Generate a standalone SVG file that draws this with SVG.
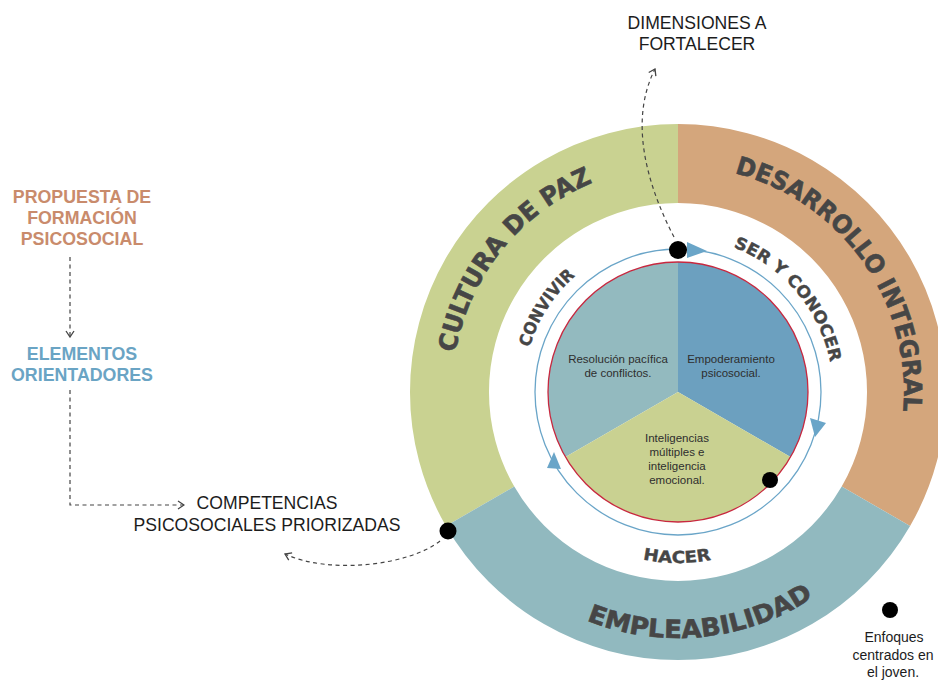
<svg xmlns="http://www.w3.org/2000/svg" width="938" height="680" viewBox="0 0 938 680">
<style>
.big{font-family:"DejaVu Sans","Liberation Sans",Arial,sans-serif;font-weight:bold;font-size:25px;fill:#464646;stroke:#464646;stroke-width:0.6}
.mid{font-family:"DejaVu Sans","Liberation Sans",Arial,sans-serif;font-weight:bold;font-size:16.5px;fill:#464646;stroke:#464646;stroke-width:0.4}
.pie{font-family:"Liberation Sans",Arial,sans-serif;font-size:11.5px;fill:#2e2e2e;text-anchor:middle}
.lbl{font-family:"Liberation Sans",Arial,sans-serif;font-size:17.6px;fill:#1c1c1c;text-anchor:middle}
.note{font-family:"Liberation Sans",Arial,sans-serif;font-size:14px;fill:#1c1c1c;text-anchor:middle}
.head{font-family:"Liberation Sans",Arial,sans-serif;font-weight:bold;font-size:17.8px;text-anchor:middle}
.dash{fill:none;stroke:#444;stroke-width:1.2;stroke-dasharray:4 3.5}
.cycle{fill:none;stroke:#6aa5c8;stroke-width:1.3}
.tri{fill:#6aa5c8}
.dot{fill:#000}
</style>
<defs>
<marker id="chev" viewBox="0 0 10 10" refX="9" refY="5" markerWidth="10" markerHeight="10" markerUnits="userSpaceOnUse" orient="auto">
<path d="M3,1 L9,5 L3,9" fill="none" stroke="#444" stroke-width="1.3"/>
</marker>
<path id="pCultura" d="M455.4 352.8 A226 226 0 0 1 593.3 182.5"/>
<path id="pDesarrollo" d="M734.6 173.2 A226 226 0 0 1 903.1 411.7"/>
<path id="pEmple" d="M586.6 620.4 A246 246 0 0 0 813.8 597.1"/>
<path id="pSer" d="M733.3 247.2 A155 155 0 0 1 830.2 362.4"/>
<path id="pConvivir" d="M529.5 347.5 A155 155 0 0 1 575.3 275.9"/>
<path id="pHacer" d="M642.7 559.3 A171 171 0 0 0 711.8 559.6"/>
</defs>

<g id="ring-cultura">
<path d="M445.9 526 A268 268 0 0 1 678 124 L678 203 A189 189 0 0 0 514.3 486.5 Z" fill="#c9d291"/>
<text class="big"><textPath href="#pCultura" textLength="228" lengthAdjust="spacingAndGlyphs">CULTURA DE PAZ</textPath></text>
</g>
<g id="ring-desarrollo">
<path d="M678 124 A268 268 0 0 1 910.1 526 L841.7 486.5 A189 189 0 0 0 678 203 Z" fill="#d4a67c"/>
<text class="big"><textPath href="#pDesarrollo" textLength="317" lengthAdjust="spacingAndGlyphs">DESARROLLO INTEGRAL</textPath></text>
</g>
<g id="ring-empleabilidad">
<path d="M910.1 526 A268 268 0 0 1 445.9 526 L514.3 486.5 A189 189 0 0 0 841.7 486.5 Z" fill="#91b9bf"/>
<text class="big"><textPath href="#pEmple" textLength="237" lengthAdjust="spacingAndGlyphs">EMPLEABILIDAD</textPath></text>
</g>

<g id="pie-resolucion">
<path d="M678 392 L565.4 457 A130 130 0 0 1 678 262 Z" fill="#93babf"/>
<text class="pie" x="618" y="363">Resolución pacífica</text>
<text class="pie" x="618" y="377">de conflictos.</text>
</g>
<g id="pie-empoderamiento">
<path d="M678 392 L678 262 A130 130 0 0 1 790.6 457 Z" fill="#6ca0bf"/>
<text class="pie" x="731" y="363">Empoderamiento</text>
<text class="pie" x="731" y="377">psicosocial.</text>
</g>
<g id="pie-inteligencias">
<path d="M678 392 L790.6 457 A130 130 0 0 1 565.4 457 Z" fill="#c9d191"/>
<text class="pie" x="677" y="442">Inteligencias</text>
<text class="pie" x="677" y="456">múltiples e</text>
<text class="pie" x="677" y="470">inteligencia</text>
<text class="pie" x="677" y="484">emocional.</text>
</g>
<circle id="pie-outline" cx="678" cy="392" r="130" fill="none" stroke="#c8283f" stroke-width="1.3"/>

<g id="cycle">
<circle class="cycle" cx="678" cy="392" r="143"/>
<path class="tri" d="M687 242 L687 258 L707 251 Z"/>
<path class="tri" d="M810 418 L826 423 L815 437 Z"/>
<path class="tri" d="M547 468 L561 469 L554 452 Z"/>
</g>

<g id="label-ser"><text class="mid"><textPath href="#pSer" textLength="157" lengthAdjust="spacingAndGlyphs">SER Y CONOCER</textPath></text></g>
<g id="label-convivir"><text class="mid"><textPath href="#pConvivir" textLength="86" lengthAdjust="spacingAndGlyphs">CONVIVIR</textPath></text></g>
<g id="label-hacer"><text class="mid"><textPath href="#pHacer" textLength="69" lengthAdjust="spacingAndGlyphs">HACER</textPath></text></g>

<g id="propuesta">
<text class="head" fill="#c98b6c" x="82" y="203">PROPUESTA DE</text>
<text class="head" fill="#c98b6c" x="82" y="224">FORMACIÓN</text>
<text class="head" fill="#c98b6c" x="82" y="245">PSICOSOCIAL</text>
</g>
<g id="elementos">
<text class="head" fill="#6aa4c4" x="82" y="360">ELEMENTOS</text>
<text class="head" fill="#6aa4c4" x="82" y="381">ORIENTADORES</text>
</g>
<g id="competencias">
<text class="lbl" x="267" y="509">COMPETENCIAS</text>
<text class="lbl" x="267" y="531">PSICOSOCIALES PRIORIZADAS</text>
</g>
<g id="dimensiones">
<text class="lbl" x="697" y="29">DIMENSIONES A</text>
<text class="lbl" x="697" y="50">FORTALECER</text>
</g>
<g id="enfoques">
<circle class="dot" cx="890" cy="610" r="8"/>
<text class="note" x="894" y="642">Enfoques</text>
<text class="note" x="893" y="660">centrados en</text>
<text class="note" x="893" y="677">el joven.</text>
</g>

<g id="dots">
<circle class="dot" cx="678" cy="250" r="9"/>
<circle class="dot" cx="770" cy="480" r="8"/>
<circle class="dot" cx="448" cy="531" r="8.5"/>
</g>

<g id="connectors">
<path class="dash" d="M70 257 L70 337" marker-end="url(#chev)"/>
<path class="dash" d="M70 390 L70 505 L184 505" marker-end="url(#chev)"/>
<path class="dash" d="M674 237 C648 187 628 122 655 69" marker-end="url(#chev)"/>
<path class="dash" d="M440 541 C410 565 330 575 285 554" marker-end="url(#chev)"/>
</g>
</svg>
